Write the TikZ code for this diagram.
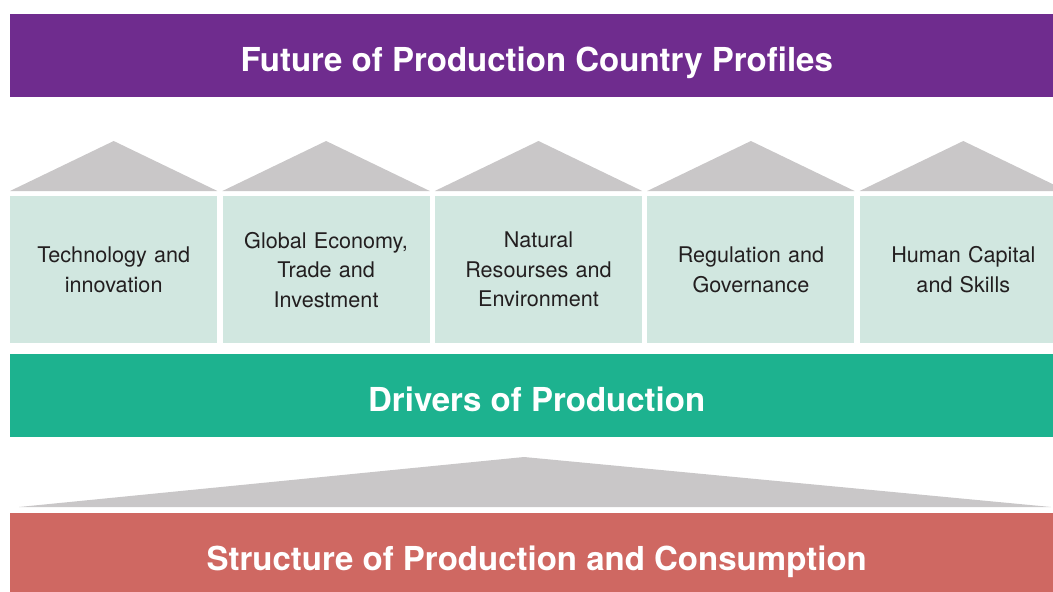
\documentclass[tikz,border=0pt]{standalone}
\usepackage{fontspec}
\setmainfont{TeX Gyre Heros}
\usetikzlibrary{positioning}

\definecolor{profilePurple}{HTML}{6F2C8E}
\definecolor{driverGreen}{HTML}{1DB28F}
\definecolor{structureRed}{HTML}{CF6862}
\definecolor{driverFill}{HTML}{D1E7E0}
\definecolor{driverText}{HTML}{231F20}
\definecolor{roofGray}{HTML}{C9C7C8}

\begin{document}
\begin{tikzpicture}[x=1pt,y=-1pt,
      every node/.style={rectangle,inner sep=0pt,anchor=north west},
      bar/.style={minimum width=1053pt,minimum height=83pt,text=white,
                  font=\fontsize{33}{36}\selectfont\bfseries,
                  text height=31pt,text depth=0pt},
      driver/.style={fill=driverFill,minimum width=207pt,minimum height=147pt,
                     text width=200pt,align=center,text=driverText,
                     font=\fontsize{21.6}{29.5}\selectfont},
      roof/.style={fill=roofGray},
    ]
      \clip (0,0) rectangle (1053,592);
      \node[bar,fill=profilePurple] (profiles) at (10,14)
        {Future of Production Country Profiles};
      \node[driver] (tech) at (10,196) {Technology and\\innovation};
      \node[driver,right=5pt of tech] (trade)
        {Global Economy,\\Trade and\\Investment};
      \node[driver,right=5pt of trade] (resources)
        {Natural\\Resourses and\\Environment};
      \node[driver,right=5pt of resources] (regulation)
        {Regulation and\\Governance};
      \node[driver,right=5pt of regulation] (skills)
        {Human Capital\\and Skills};
      \foreach \b in {tech,trade,resources,regulation,skills}
        \fill[roof] ([yshift=5pt]\b.north west) -- ([yshift=55pt]\b.north)
          -- ([yshift=5pt]\b.north east) -- cycle;
      \node[bar,fill=driverGreen] (drivers) at (10,354) {Drivers of Production};
      \fill[roof] (19,507) -- (524,457) -- (1051,507) -- cycle;
      \node[bar,fill=structureRed] (structure) at (10,513)
        {Structure of Production and Consumption};
    \end{tikzpicture}
\end{document}
